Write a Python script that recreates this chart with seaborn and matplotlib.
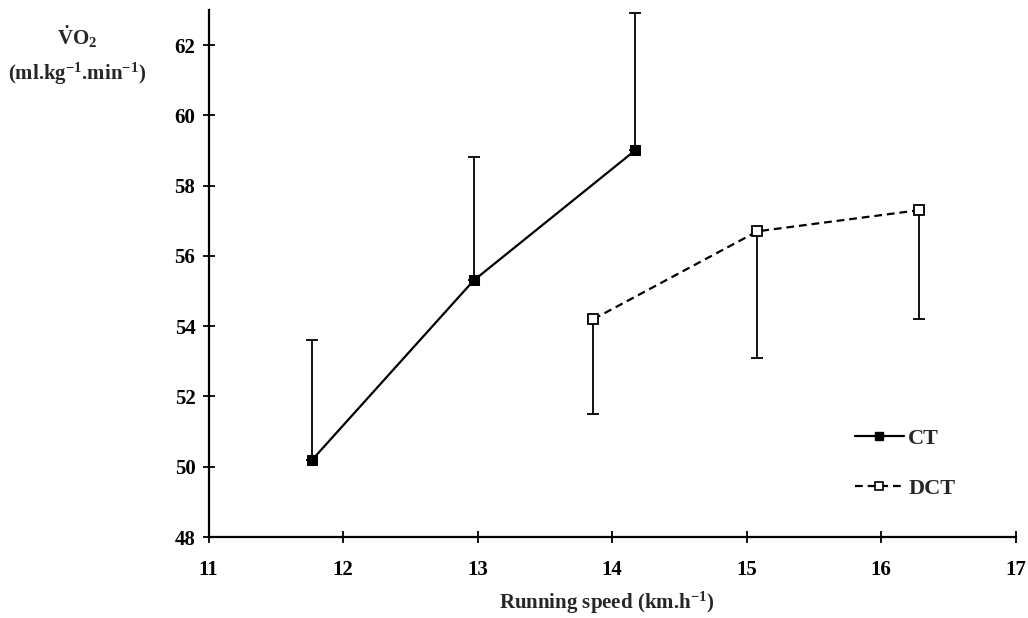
import matplotlib
matplotlib.use("Agg")
import matplotlib.pyplot as plt
import seaborn as sns
import pandas as pd
from matplotlib.lines import Line2D

# Oxygen uptake at each running speed, for the two groups
ct_speed = [11.77, 12.97, 14.17]
ct_vo2 = [50.2, 55.3, 59.0]
ct_sd_up = [3.4, 3.5, 3.9]        # SD drawn above the mean

dct_speed = [13.86, 15.08, 16.28]
dct_vo2 = [54.2, 56.7, 57.3]
dct_sd_down = [2.7, 3.6, 3.1]     # SD drawn below the mean

x_ticks = [11, 12, 13, 14, 15, 16, 17]
y_ticks = [48, 50, 52, 54, 56, 58, 60, 62]

sns.set_theme(style="white")
plt.rcParams["font.family"] = ["Liberation Serif", "DejaVu Serif"]
plt.rcParams["font.weight"] = "bold"
plt.rcParams["mathtext.fontset"] = "custom"
plt.rcParams["mathtext.rm"] = "Liberation Serif:bold"
plt.rcParams["mathtext.bf"] = "Liberation Serif:bold"
plt.rcParams["mathtext.it"] = "Liberation Serif:bold"
plt.rcParams["mathtext.default"] = "rm"

df = pd.DataFrame({
    "speed": ct_speed + dct_speed,
    "vo2": ct_vo2 + dct_vo2,
    "group": ["CT"] * len(ct_speed) + ["DCT"] * len(dct_speed),
})

fig = plt.figure(figsize=(10.28, 6.18), dpi=100)
ax = fig.add_axes([0.203, 0.131, 0.785, 0.853])

# One-sided error bars
ax.errorbar(ct_speed, ct_vo2, yerr=[[0] * 3, ct_sd_up], fmt="none",
            ecolor="black", elinewidth=1.3, capsize=4, capthick=1.3, zorder=2)
ax.errorbar(dct_speed, dct_vo2, yerr=[dct_sd_down, [0] * 3], fmt="none",
            ecolor="black", elinewidth=1.3, capsize=4, capthick=1.3, zorder=2)

sns.lineplot(data=df, x="speed", y="vo2", hue="group", style="group",
             palette={"CT": "black", "DCT": "black"},
             dashes={"CT": "", "DCT": (3.5, 2.2)},
             markers={"CT": "s", "DCT": "s"},
             markersize=6.5, linewidth=1.6, legend=False, ax=ax,
             sort=False, estimator=None, zorder=3)

# open markers for the DCT series
for ln in ax.lines:
    if ln.get_linestyle() not in ("-", "solid"):
        ln.set_markerfacecolor("white")
        ln.set_markeredgecolor("black")
        ln.set_markeredgewidth(1.3)
    else:
        ln.set_markerfacecolor("black")
        ln.set_markeredgecolor("black")

ax.set_xlim(11, 17)
ax.set_ylim(48, 63)
ax.set_xticks(x_ticks)
ax.set_yticks(y_ticks)
ax.tick_params(axis="both", which="major", bottom=True, left=True,
               direction="inout", length=9, width=1.3,
               labelsize=15, colors="black")
ax.tick_params(axis="y", pad=5)
ax.tick_params(axis="x", pad=12)
for lab in ax.get_xticklabels() + ax.get_yticklabels():
    lab.set_fontweight("bold")

for side in ("top", "right"):
    ax.spines[side].set_visible(False)
for side in ("left", "bottom"):
    ax.spines[side].set_color("black")
    ax.spines[side].set_linewidth(1.6)

ax.set_xlabel("")
ax.set_ylabel("")
fig.text(0.59, 0.024, "Running speed (km.h$^{-1}$)", ha="center",
         va="center", fontsize=15, fontweight="bold")

fig.text(0.075, 0.94, "$\\dot{V}$O$_{2}$", ha="center", va="center",
         fontsize=15, fontweight="bold")
fig.text(0.075, 0.88, "(ml.kg$^{-1}$.min$^{-1}$)",
         ha="center", va="center", fontsize=15, fontweight="bold")

handles = [
    Line2D([], [], color="black", linewidth=1.6, marker="s", markersize=6,
           markerfacecolor="black"),
    Line2D([], [], color="black", linewidth=1.6, linestyle=(0, (3.5, 2.2)),
           marker="s", markersize=5.5, markerfacecolor="white",
           markeredgewidth=1.2),
]
ax.legend(handles, ["CT", "DCT"], frameon=False, loc="lower right",
          bbox_to_anchor=(0.95, 0.035), handlelength=2.2, handletextpad=0.2,
          labelspacing=1.3, prop={"size": 16, "weight": "bold"})

fig.savefig("out.png", dpi=100)
